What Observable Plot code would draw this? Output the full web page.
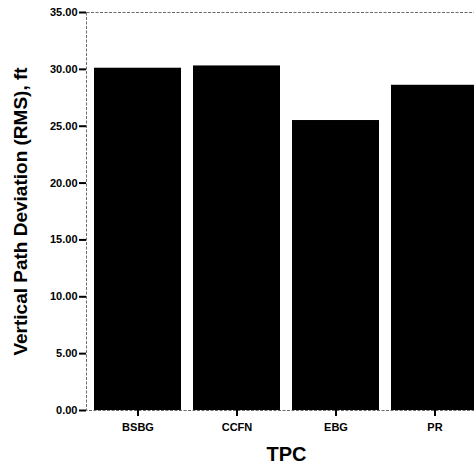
<!DOCTYPE html>
<html>
<head>
<meta charset="utf-8">
<script src="https://cdn.jsdelivr.net/npm/d3@7"></script>
<script src="https://cdn.jsdelivr.net/npm/@observablehq/plot@0.6"></script>
<style>
  html, body { margin: 0; padding: 0; background: #fff; overflow: hidden; }
  #chart { width: 474px; height: 469px; overflow: hidden; }
</style>
</head>
<body>
<div id="chart"></div>
<script>
const categories = ["BSBG", "CCFN", "EBG", "PR"];
const values = [30.1, 30.3, 25.5, 28.6];
const yTicks = [0, 5, 10, 15, 20, 25, 30, 35];
const yTitle = "Vertical Path Deviation (RMS), ft";
const xTitle = "TPC";

const data = categories.map((c, i) => ({tpc: c, value: values[i]}));

const chart = Plot.plot({
  width: 474,
  height: 469,
  marginTop: 12,
  marginBottom: 59,
  marginLeft: 86,
  marginRight: -12,
  style: {fontFamily: "'Liberation Sans', Arial, sans-serif", fontWeight: "bold", background: "#fff", color: "#000"},
  x: {domain: categories, paddingInner: 0.12, paddingOuter: 0.07, label: null},
  y: {domain: [0, 35], label: null},
  marks: [
    Plot.frame({stroke: "#444", strokeWidth: 0.8, strokeDasharray: "3,1.5"}),
    Plot.barY(data, {x: "tpc", y: "value", fill: "#000"}),
    Plot.axisY({ticks: yTicks, tickFormat: d => d.toFixed(2), tickSize: 7, tickPadding: 2, strokeWidth: 2, fontSize: 11, fontWeight: "bold", label: null}),
    Plot.axisX({tickSize: 6, tickPadding: 7, strokeWidth: 2, fontSize: 11, fontWeight: "bold", label: null}),
    Plot.text([yTitle], {frameAnchor: "left", textAnchor: "middle", dx: -66, rotate: -90, fontSize: 19, fontWeight: "bold", fill: "#000"}),
    Plot.text([xTitle], {frameAnchor: "bottom", dy: 50, fontSize: 20, fontWeight: "bold", fill: "#000"})
  ]
});
document.getElementById("chart").appendChild(chart);
</script>
</body>
</html>
